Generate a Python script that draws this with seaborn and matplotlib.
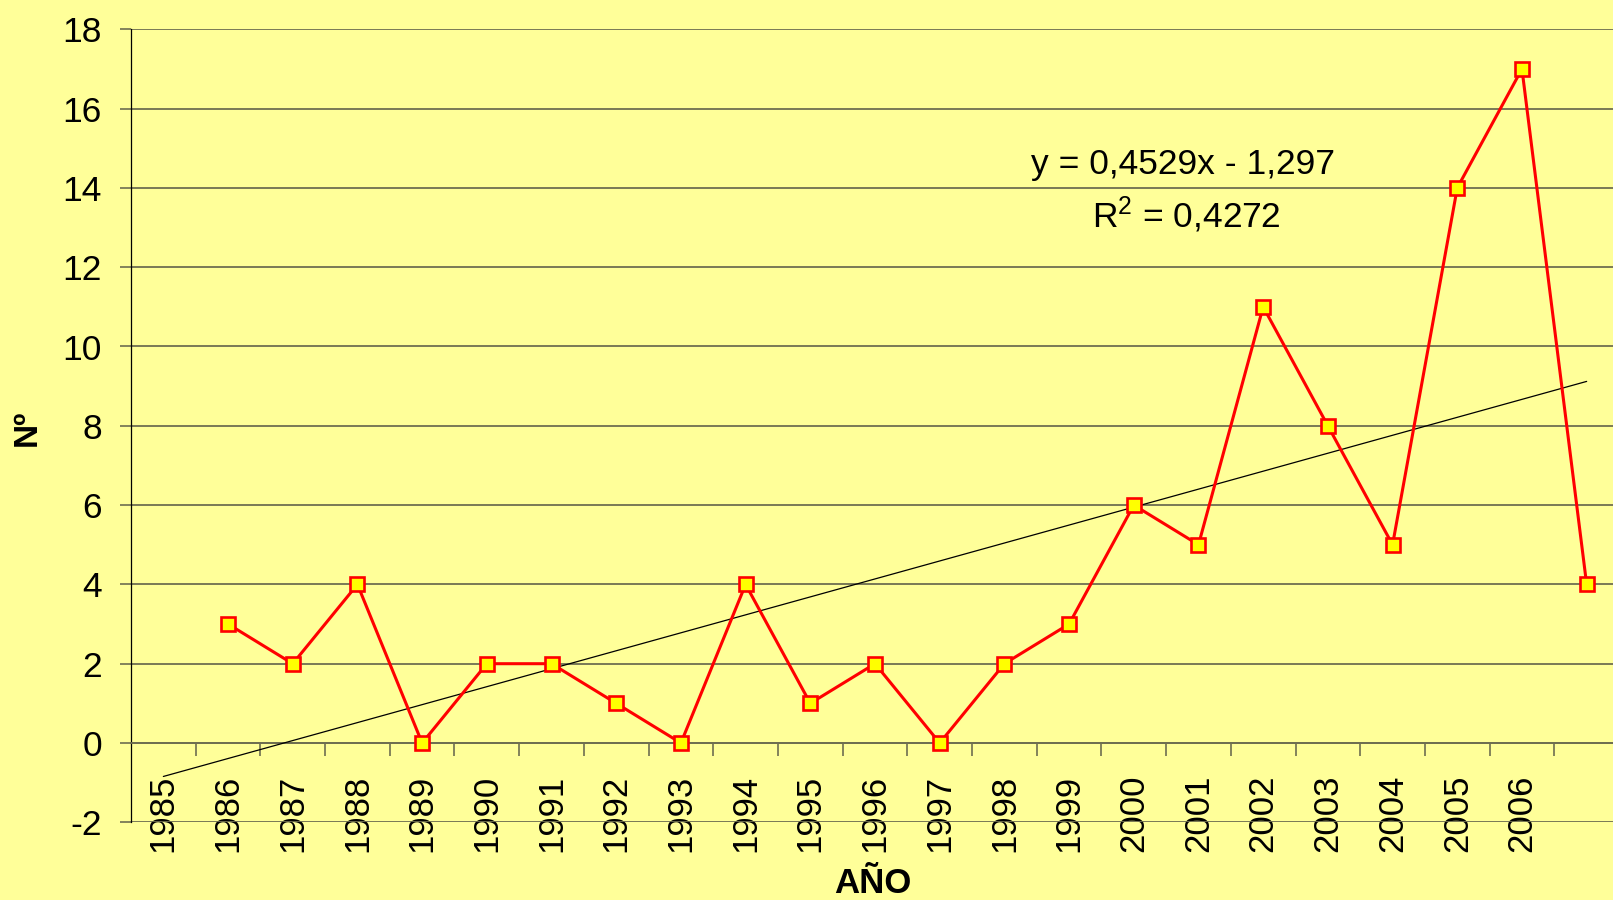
import numpy as np
import pandas as pd
import matplotlib
matplotlib.use("Agg")
import matplotlib.pyplot as plt
import seaborn as sns

# Data
years = [1985, 1986, 1987, 1988, 1989, 1990, 1991, 1992, 1993, 1994, 1995,
         1996, 1997, 1998, 1999, 2000, 2001, 2002, 2003, 2004, 2005, 2006]
counts = [3, 2, 4, 0, 2, 2, 1, 0, 4, 1, 2, 0, 2, 3, 6, 5, 11, 8, 5, 14, 17, 4]
slope = 0.4529
intercept = -1.297
eq_text = "y = 0,4529x - 1,297"
r2_text = "0,4272"

# the series sits one category to the right of the year labels (as in the original sheet)
label_pos = np.arange(1, len(years) + 1)
point_pos = np.arange(2, len(counts) + 2)
n_cats = len(counts) + 1

df = pd.DataFrame({"pos": point_pos, "n": counts})

sns.set_style("white")
plt.rcParams["font.family"] = ["Liberation Sans", "DejaVu Sans"]
plt.rcParams["axes.unicode_minus"] = False
plt.rcParams["text.color"] = "black"
plt.rcParams["xtick.color"] = "black"
plt.rcParams["ytick.color"] = "black"
plt.rcParams["mathtext.fontset"] = "custom"
plt.rcParams["mathtext.rm"] = "Liberation Sans"
plt.rcParams["mathtext.it"] = "Liberation Sans:italic"

bg = "#FFFF99"
grid_col = "#6e6e50"

fig = plt.figure(figsize=(16.13, 9), dpi=100, facecolor=bg)
ax = fig.add_axes([131 / 1613, 77.7 / 900, (1619 - 131) / 1613, 793 / 900])
ax.set_facecolor(bg)

# trend line over the whole category range
trend_x = np.array([1, n_cats])
ax.plot(trend_x, slope * trend_x + intercept, color="black", lw=0.9, zorder=3)

sns.lineplot(data=df, x="pos", y="n", ax=ax, color="#FF0000", linewidth=2.2,
             marker="s", markersize=10.5, markerfacecolor="#FFFF00",
             markeredgecolor="#FF0000", markeredgewidth=1.9, zorder=4)

ax.set_xlim(0.5, n_cats + 0.5)
ax.set_ylim(-2, 18)
ax.set_yticks(np.arange(-2, 19, 2))
ax.yaxis.grid(True, color=grid_col, lw=1.3)
ax.set_axisbelow(True)

# x axis crosses at 0, ticks between categories, labels at centres
ax.spines["bottom"].set_position(("data", 0))
ax.spines["bottom"].set_color(grid_col)
ax.spines["bottom"].set_linewidth(1.3)
ax.spines["left"].set_color("black")
ax.spines["left"].set_linewidth(0.9)
ax.spines["top"].set_visible(False)
ax.spines["right"].set_visible(False)

ax.set_xticks(np.arange(1.5, n_cats, 1))
ax.set_xticklabels([])
ax.set_xticks(label_pos, minor=True)
ax.set_xticklabels([str(y) for y in years], minor=True, rotation=90,
                   fontsize=25, va="top", ha="center")
ax.tick_params(axis="x", which="major", direction="out", length=9,
               width=1.2, color=grid_col, bottom=True)
ax.tick_params(axis="x", which="minor", length=0, pad=23)
ax.tick_params(axis="y", direction="out", length=8, width=1.2,
               color=grid_col, pad=13, labelsize=25.5, left=True)

ax.set_xlabel("")
ax.set_ylabel("")

ax.text(16.76, 14.35, eq_text, fontsize=25.5, ha="center", va="baseline")
ax.text(16.82, 13.0, r"R$^{\mathrm{2}}$ = " + r2_text, fontsize=25.5,
        ha="center", va="baseline")

fig.text(27 / 1613, 1 - 428 / 900, "Nº", rotation=90, fontsize=24,
         fontweight="bold", ha="center", va="center")
fig.text(873 / 1613, 1 - 893 / 900, "AÑO", fontsize=25,
         fontweight="bold", ha="center", va="baseline")

fig.savefig("out.png", dpi=100, facecolor=bg)
